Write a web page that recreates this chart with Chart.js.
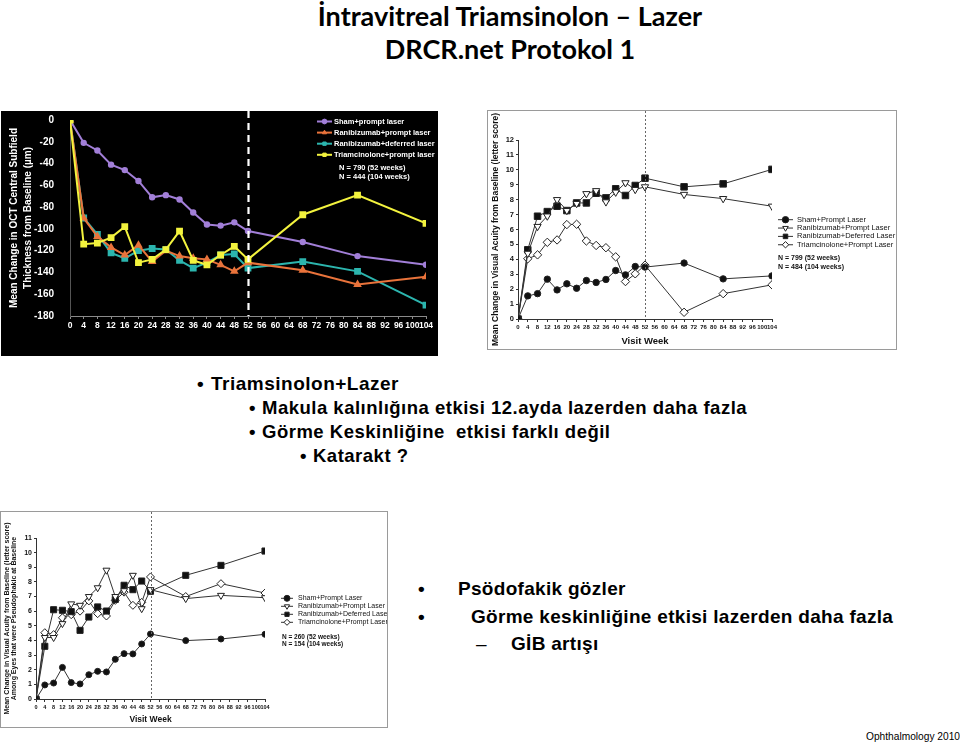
<!DOCTYPE html>
<html>
<head>
<meta charset="utf-8">
<script src="https://cdn.jsdelivr.net/npm/chart.js@4.4.1/dist/chart.umd.min.js"></script>
<style>
  html, body { margin:0; padding:0; background:#fff; width:960px; height:745px; overflow:hidden; }
  body { position:relative; font-family:"Liberation Sans", Arial, sans-serif; color:#000; }
  .abs { position:absolute; white-space:nowrap; line-height:1; }
  .title { font-family: Lato, "Open Sans", sans-serif; font-weight:bold; font-size:27px; left:0; width:1020px; text-align:center; }
  .b1 { font-weight:bold; font-size:19px; letter-spacing:0.5px; }
  .b2 { font-weight:bold; font-size:18.5px; letter-spacing:0.5px; }
  .r1 { font-weight:bold; font-size:19px; letter-spacing:0.3px; }
  #box1 { position:absolute; left:1px; top:111px; width:437px; height:245px; background:#000; }
  #box2 { position:absolute; left:487px; top:110px; width:408px; height:238px; border:1px solid #9a9a9a; background:#fff; }
  #box3 { position:absolute; left:0px; top:511px; width:386px; height:215px; border:1px solid #9a9a9a; background:#fff; }
  canvas { position:absolute; left:0; top:0; }
</style>
</head>
<body>
<div class="abs title" style="top:2px;">İntravitreal Triamsinolon – Lazer</div>
<div class="abs title" style="top:35px;">DRCR.net Protokol 1</div>

<div id="box1"><canvas id="c1" width="437" height="245"></canvas></div>
<div id="box2"><canvas id="c2" width="408" height="238"></canvas></div>
<div id="box3"><canvas id="c3" width="386" height="215"></canvas></div>

<div class="abs b1" style="left:197px; top:374px;">•</div>
<div class="abs b1" style="left:211px; top:374px;">Triamsinolon+Lazer</div>
<div class="abs b2" style="left:249px; top:399px;">•</div>
<div class="abs b2" style="left:262px; top:399px;">Makula kalınlığına etkisi 12.ayda lazerden daha fazla</div>
<div class="abs b2" style="left:249px; top:423px;">•</div>
<div class="abs b2" style="left:262px; top:423px;">Görme Keskinliğine&nbsp; etkisi farklı değil</div>
<div class="abs b2" style="left:300px; top:447px;">•</div>
<div class="abs b2" style="left:313px; top:447px;">Katarakt ?</div>

<div class="abs r1" style="left:418px; top:579px;">•</div>
<div class="abs r1" style="left:458px; top:579px;">Psödofakik gözler</div>
<div class="abs r1" style="left:418px; top:607px;">•</div>
<div class="abs r1" style="left:471px; top:607px;">Görme keskinliğine etkisi lazerden daha fazla</div>
<div class="abs r1" style="left:476px; top:634px; font-weight:normal;">–</div>
<div class="abs r1" style="left:511px; top:634px;">GİB artışı</div>

<div class="abs" style="left:866px; top:732px; font-size:10.2px;">Ophthalmology 2010</div>

<script>
// ---------------- DATA ----------------
const weeks = [0, 4, 8, 12, 16, 20, 24, 28, 32, 36, 40, 44, 48, 52, 68, 84, 104];
const weekTicks = [0,4,8,12,16,20,24,28,32,36,40,44,48,52,56,60,64,68,72,76,80,84,88,92,96,100,104];

// Chart 1: OCT central subfield thickness change (µm)
const octTicks = [0, -20, -40, -60, -80, -100, -120, -140, -160, -180];
const octSham        = [0, -21, -28, -41, -46, -56, -71, -69, -73, -85, -96, -97, -94, -102, -112, -125, -133];
const octRanPrompt   = [0, -90, -107, -117, -124, -115, -130, -120, -125, -127, -128, -133, -139, -131, -138, -151, -144];
const octRanDeferred = [0, -90, -105, -122, -127, -120, -118, -119, -129, -136, -131, -124, -123, -136, -130, -139, -170];
const octTriam       = [0, -114, -113, -108, -98, -131, -128, -119, -102, -129, -133, -124, -116, -128, -87, -69, -95];

// Chart 2: visual acuity change (letter score)
const vaTicks = [0,1,2,3,4,5,6,7,8,9,10,11,12];
const vaSham        = [0, 1.55, 1.7, 2.67, 1.95, 2.36, 2.06, 2.58, 2.45, 2.65, 3.25, 2.96, 3.52, 3.48, 3.75, 2.69, 2.89];
const vaRanPrompt   = [0, 4.4, 6.2, 6.9, 8.0, 7.27, 7.74, 8.4, 8.6, 7.85, 8.5, 9.13, 8.68, 8.86, 8.35, 8.07, 7.56];
const vaRanDeferred = [0, 4.64, 6.89, 7.2, 7.56, 7.27, 7.78, 7.78, 8.43, 8.12, 8.73, 8.28, 8.95, 9.44, 8.86, 9.06, 10.03];
const vaTriam       = [0, 4.04, 4.3, 5.14, 5.3, 6.33, 6.35, 5.23, 4.93, 4.78, 4.17, 2.51, 3.03, 3.61, 0.45, 1.7, 2.29];

// Chart 3: visual acuity change, pseudophakic eyes
const psTicks = [0,1,2,3,4,5,6,7,8,9,10,11];
const psSham        = [0, 0.96, 1.09, 2.16, 1.12, 1.03, 1.66, 1.89, 1.85, 2.71, 3.1, 3.08, 3.76, 4.44, 3.99, 4.1, 4.42];
const psRanPrompt   = [0, 4.2, 4.2, 5.15, 6.5, 6.4, 7.0, 7.6, 8.8, 7.0, 7.4, 8.45, 6.17, 7.47, 6.86, 7.08, 6.92];
const psRanDeferred = [0, 3.6, 6.1, 6.06, 5.97, 4.69, 5.6, 6.29, 6.01, 6.8, 7.77, 7.47, 8.06, 7.36, 8.45, 9.13, 10.11];
const psTriam       = [0, 4.53, 4.4, 5.55, 5.76, 6.0, 6.7, 5.83, 5.67, 6.74, 7.3, 6.4, 6.6, 8.34, 7.0, 7.88, 7.24];

const octLabels = ['Sham+prompt laser', 'Ranibizumab+prompt laser', 'Ranibizumab+deferred laser', 'Triamcinolone+prompt laser'];
const vaLabels  = ['Sham+Prompt Laser', 'Ranibizumab+Prompt Laser', 'Ranibizumab+Deferred Laser', 'Triamcinolone+Prompt Laser'];
const octNotes = ['N = 790 (52 weeks)', 'N = 444 (104 weeks)'];
const vaNotes  = ['N = 799 (52 weeks)', 'N = 484 (104 weeks)'];
const psNotes  = ['N = 260 (52 weeks)', 'N = 154 (104 weeks)'];
const octYTitle = ['Mean Change in OCT Central Subfield', 'Thickness from Baseline (µm)'];
const vaYTitle  = 'Mean Change in Visual Acuity from Baseline (letter score)';
const psYTitle  = ['Mean Change in Visual Acuity from Baseline (letter score)', 'Among Eyes that were Pseudophakic at Baseline'];
const xTitle = 'Visit Week';

// ---------------- HELPERS ----------------
Chart.defaults.font.family = '"Liberation Sans", Arial, sans-serif';
Chart.defaults.animation = false;

function pts(arr) { return arr.map((v, i) => ({ x: weeks[i], y: v })); }

function drawMarker(ctx, style, x, y, r, fill, stroke, rot, lw) {
  ctx.save();
  ctx.translate(x, y);
  ctx.rotate((rot || 0) * Math.PI / 180);
  ctx.beginPath();
  if (style === 'circle') {
    ctx.arc(0, 0, r, 0, Math.PI * 2);
  } else if (style === 'rect') {
    const s = r * Math.SQRT1_2;
    ctx.rect(-s, -s, 2 * s, 2 * s);
  } else if (style === 'rectRot') {
    ctx.moveTo(0, -r); ctx.lineTo(r, 0); ctx.lineTo(0, r); ctx.lineTo(-r, 0); ctx.closePath();
  } else if (style === 'triangle') {
    ctx.moveTo(0, -r); ctx.lineTo(r * 0.866, r * 0.5); ctx.lineTo(-r * 0.866, r * 0.5); ctx.closePath();
  }
  ctx.fillStyle = fill; ctx.fill();
  ctx.lineWidth = lw || 1; ctx.strokeStyle = stroke; ctx.stroke();
  ctx.restore();
}

const slideLegend = {
  id: 'slideLegend',
  afterDraw(chart, args, o) {
    const ctx = chart.ctx;
    ctx.save();
    ctx.textBaseline = 'middle';
    ctx.textAlign = 'left';
    chart.data.datasets.forEach((ds, i) => {
      const y = o.y + i * o.dy;
      ctx.strokeStyle = ds.borderColor;
      ctx.lineWidth = o.lineWidth;
      ctx.beginPath(); ctx.moveTo(o.x, y); ctx.lineTo(o.x + o.len, y); ctx.stroke();
      drawMarker(ctx, ds.pointStyle, o.x + o.len / 2, y, o.r, ds.pointBackgroundColor, ds.pointBorderColor, ds.pointRotation, 1);
      ctx.font = o.font;
      ctx.fillStyle = o.color;
      ctx.fillText(ds.label, o.textX, y);
    });
    ctx.font = o.noteFont;
    ctx.fillStyle = o.color;
    o.notes.forEach((t, i) => ctx.fillText(t, o.noteX, o.noteY + i * o.noteDy));
    ctx.restore();
  }
};

const weekLine = {
  id: 'weekLine',
  afterDatasetsDraw(chart, args, o) {
    const ctx = chart.ctx;
    const x = Math.round(chart.scales.x.getPixelForValue(o.value)) + 0.5;
    ctx.save();
    ctx.strokeStyle = o.color;
    ctx.lineWidth = o.width;
    ctx.setLineDash(o.dash);
    ctx.beginPath();
    ctx.moveTo(x, 0);
    ctx.lineTo(x, chart.chartArea.bottom);
    ctx.stroke();
    ctx.restore();
  }
};

function fixedY(w) {
  return function (scale) { scale.width = w; scale.paddingTop = 0; scale.paddingBottom = 0; };
}
function fixedX(h) {
  return function (scale) { scale.height = h; scale.paddingLeft = 0; scale.paddingRight = 0; };
}
function tickSetter(list) {
  return function (scale) { scale.ticks = list.map(v => ({ value: v })); };
}

// ---------------- CHART 1 (OCT) ----------------
const octColors = ['#a27fd8', '#e9733b', '#2cb5ae', '#f3f33e'];
const octStyles = ['circle', 'triangle', 'rect', 'rect'];
const octRadii = [2.2, 3, 3.4, 3.4];
const octSeries = [octSham, octRanPrompt, octRanDeferred, octTriam];

new Chart(document.getElementById('c1'), {
  type: 'line',
  data: {
    datasets: octSeries.map((s, i) => ({
      label: octLabels[i],
      data: pts(s),
      borderColor: octColors[i],
      backgroundColor: octColors[i],
      pointBackgroundColor: octColors[i],
      pointBorderColor: octColors[i],
      pointStyle: octStyles[i],
      pointRadius: octRadii[i],
      pointRotation: 0,
      borderWidth: 2,
      tension: 0,
      order: i === 3 ? 0 : i + 1
    }))
  },
  options: {
    responsive: false,
    layout: { padding: { left: 0, top: 9, right: 12, bottom: 0 } },
    plugins: {
      legend: { display: false },
      tooltip: { enabled: false },
      weekLine: { value: 52, color: '#ffffff', width: 2.2, dash: [7, 5] },
      slideLegend: {
        x: 316, len: 15, y: 10.5, dy: 11.1, r: 2.4, lineWidth: 2, textX: 333,
        font: 'bold 7.5px "Liberation Sans", Arial, sans-serif', color: '#ffffff',
        notes: octNotes, noteX: 338, noteY: 57, noteDy: 9.3,
        noteFont: 'bold 7.5px "Liberation Sans", Arial, sans-serif'
      }
    },
    scales: {
      x: {
        type: 'linear', min: 0, max: 104,
        afterBuildTicks: tickSetter(weekTicks),
        afterFit: fixedX(40),
        grid: { display: true, drawOnChartArea: false, tickLength: 3, color: '#8a8a8a' },
        border: { display: true, color: '#8a8a8a', width: 1 },
        ticks: { autoSkip: false, maxRotation: 0, minRotation: 0, color: '#ffffff', padding: 2, font: { size: 8.5, weight: 'bold' } }
      },
      y: {
        type: 'linear', min: -180, max: 0,
        afterBuildTicks: tickSetter(octTicks),
        afterFit: fixedY(69),
        grid: { display: false },
        border: { display: true, color: '#555555', width: 1 },
        ticks: { color: '#ffffff', padding: 8, font: { size: 10, weight: 'bold' } },
        title: { display: true, text: octYTitle, color: '#ffffff', padding: { top: 6, bottom: 0 }, font: { size: 10, weight: 'bold', lineHeight: 1.4 } }
      }
    }
  },
  plugins: [weekLine, slideLegend]
});

// ---------------- CHART 2 & 3 (visual acuity) ----------------
const vaStyles = ['circle', 'triangle', 'rect', 'rectRot'];
const vaFills = ['#111111', '#ffffff', '#111111', '#ffffff'];
const vaRot = [0, 180, 0, 0];

function vaChart(id, series, ticks, yMax, opts) {
  return new Chart(document.getElementById(id), {
    type: 'line',
    data: {
      datasets: series.map((s, i) => ({
        label: vaLabels[i],
        data: pts(s),
        borderColor: '#333333',
        backgroundColor: vaFills[i],
        pointBackgroundColor: vaFills[i],
        pointBorderColor: '#222222',
        pointStyle: vaStyles[i],
        pointRotation: vaRot[i],
        pointRadius: opts.radii[i],
        pointBorderWidth: 1,
        borderWidth: 1,
        tension: 0
      }))
    },
    options: {
      responsive: false,
      layout: { padding: opts.padding },
      plugins: {
        legend: { display: false },
        tooltip: { enabled: false },
        weekLine: { value: 52, color: '#666666', width: 1, dash: [2, 2] },
        slideLegend: opts.legend
      },
      scales: {
        x: {
          type: 'linear', min: 0, max: 104,
          afterBuildTicks: tickSetter(weekTicks),
          afterFit: fixedX(opts.xH),
          grid: { display: true, drawOnChartArea: false, tickLength: 3, color: '#333333' },
          border: { display: true, color: '#333333', width: 1 },
          ticks: { autoSkip: false, maxRotation: 0, minRotation: 0, color: '#111111', padding: 2, font: { size: opts.xTickSize, weight: 'bold' } },
          title: { display: true, text: xTitle, color: '#111111', padding: { top: 0, bottom: 2 }, font: { size: opts.xTitleSize, weight: 'bold' } }
        },
        y: {
          type: 'linear', min: 0, max: yMax,
          afterBuildTicks: tickSetter(ticks),
          afterFit: fixedY(opts.yW),
          grid: { display: true, drawOnChartArea: false, tickLength: 2, color: '#333333' },
          border: { display: true, color: '#333333', width: 1 },
          ticks: { color: '#111111', padding: 2, font: { size: opts.yTickSize, weight: 'bold' } },
          title: { display: true, text: opts.yTitle, color: '#111111', padding: { top: opts.yTitlePad, bottom: 0 }, font: { size: opts.yTitleSize, weight: 'bold', lineHeight: opts.yTitleLH } }
        }
      }
    },
    plugins: [weekLine, slideLegend]
  });
}

vaChart('c2', [vaSham, vaRanPrompt, vaRanDeferred, vaTriam], vaTicks, 12, {
  padding: { left: 0, top: 29, right: 124, bottom: 0 },
  xH: 30, yW: 30, radii: [3.2, 4.2, 4.6, 4.2],
  xTickSize: 6, yTickSize: 7.5, xTitleSize: 9.5, yTitleSize: 8.5, yTitleLH: 1.2, yTitlePad: 3,
  yTitle: vaYTitle,
  legend: {
    x: 290, len: 15, y: 108.7, dy: 8.35, r: 3.2, lineWidth: 1, textX: 309,
    font: '7.5px "Liberation Sans", Arial, sans-serif', color: '#111111',
    notes: vaNotes, noteX: 290, noteY: 147, noteDy: 9.3,
    noteFont: 'bold 7px "Liberation Sans", Arial, sans-serif'
  }
});

vaChart('c3', [psSham, psRanPrompt, psRanDeferred, psTriam], psTicks, 11, {
  padding: { left: 0, top: 26, right: 122, bottom: 0 },
  xH: 28, yW: 35, radii: [3, 4, 4.3, 4],
  xTickSize: 5.5, yTickSize: 7, xTitleSize: 8.5, yTitleSize: 7, yTitleLH: 1.05, yTitlePad: 2,
  yTitle: psYTitle,
  legend: {
    x: 280, len: 12, y: 86.3, dy: 8, r: 3, lineWidth: 1, textX: 297,
    font: '7px "Liberation Sans", Arial, sans-serif', color: '#111111',
    notes: psNotes, noteX: 281, noteY: 125, noteDy: 7.7,
    noteFont: 'bold 6.5px "Liberation Sans", Arial, sans-serif'
  }
});
</script>
</body>
</html>
